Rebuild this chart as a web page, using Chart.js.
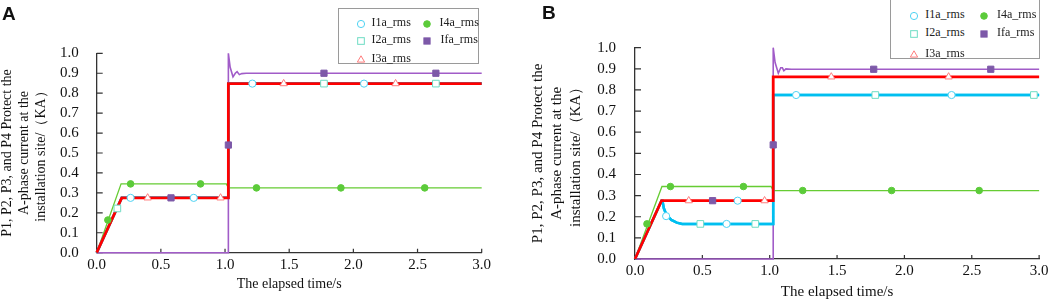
<!DOCTYPE html>
<html lang="en">
<head>
  <meta charset="UTF-8" />
  <title>A-phase current at the installation site</title>
  <script src="https://cdn.jsdelivr.net/npm/chart.js"></script>
  <style>
    body {
      margin: 0;
      width: 1052px;
      height: 300px;
      background: #fff;
      position: relative;
      overflow: hidden;
      font-family: "Liberation Serif", serif;
    }
    .painel { position: absolute; top: 0; height: 300px; }
    .letra {
      position: absolute;
      font-family: "Liberation Sans", Arial, sans-serif;
      font-weight: bold;
      font-size: 19px;
      line-height: 19px;
      color: #111;
    }
    .legenda {
      position: absolute;
      border: 1.3px solid #9a9a9a;
      background: #fff;
      box-sizing: border-box;
      z-index: 2;
    }
    .item {
      position: absolute;
      font-size: 12px;
      line-height: 14px;
      color: #222;
      white-space: nowrap;
    }
    .simbolo { position: absolute; }
  </style>
</head>
<body>
  <div class="painel" style="left:0;width:530px;"><canvas id="graficoA"></canvas></div>
  <div class="painel" style="left:530px;width:522px;"><canvas id="graficoB"></canvas></div>
  <div class="letra" style="left:2px;top:3.5px;">A</div>
  <div class="letra" style="left:542px;top:2.5px;">B</div>
  <div class="legenda" id="legendaA" style="left:338px;top:8px;width:141px;height:56px;"></div>
  <div class="legenda" id="legendaB" style="left:890px;top:-1px;width:150px;height:60px;"></div>

  <script>
    const rotulosX = ['0.0', '0.5', '1.0', '1.5', '2.0', '2.5', '3.0'];
    const rotulosY = ['0.0', '0.1', '0.2', '0.3', '0.4', '0.5', '0.6', '0.7', '0.8', '0.9', '1.0'];
    const nomes = ['I1a_rms', 'I2a_rms', 'I3a_rms', 'I4a_rms', 'Ifa_rms'];

    // painel A - curvas
    const aTempo123 = [0, 0.195, 1.026, 1.026, 3];
    const aValor123 = [0, 0.275, 0.275, 0.848, 0.848];
    const aTempo4 = [0, 0.19, 1.01, 1.026, 3];
    const aValor4 = [0, 0.345, 0.345, 0.325, 0.325];
    const aTempoF = [0, 1.026, 1.026, 1.04, 1.062, 1.08, 1.094, 1.112, 1.13, 1.165, 3];
    const aValorF = [0, 0, 1.0, 0.93, 0.882, 0.9, 0.908, 0.893, 0.898, 0.9, 0.9];

    // painel A - marcadores
    const aM1t = [0.264, 0.756, 1.213, 2.083];
    const aM1v = [0.275, 0.275, 0.848, 0.848];
    const aM2t = [0.161, 1.771, 2.643];
    const aM2v = [0.222, 0.848, 0.848];
    const aM3t = [0.397, 0.965, 1.457, 2.329];
    const aM3v = [0.275, 0.275, 0.848, 0.848];
    const aM4t = [0.087, 0.264, 0.809, 1.245, 1.903, 2.556];
    const aM4v = [0.164, 0.345, 0.345, 0.325, 0.325, 0.325];
    const aMFt = [0.579, 1.026, 1.771, 2.643];
    const aMFv = [0.275, 0.54, 0.9, 0.9];

    // painel B - curvas
    const bTempo12 = [0, 0.197, 0.204, 0.214, 0.234, 0.27, 0.31, 0.35, 1.026, 1.026, 3];
    const bValor12 = [0, 0.276, 0.276, 0.24, 0.208, 0.185, 0.172, 0.166, 0.166, 0.776, 0.776];
    const bTempo3 = [0, 0.197, 1.026, 1.026, 3];
    const bValor3 = [0, 0.276, 0.276, 0.862, 0.862];
    const bTempo4 = [0, 0.2, 1.01, 1.026, 3];
    const bValor4 = [0, 0.343, 0.343, 0.324, 0.324];
    const bTempoF = [0, 1.026, 1.026, 1.04, 1.064, 1.082, 1.094, 1.105, 1.12, 1.16, 3];
    const bValorF = [0, 0, 1.0, 0.93, 0.879, 0.905, 0.905, 0.891, 0.9, 0.898, 0.898];

    // painel B - marcadores
    const bM1t = [0.231, 0.68, 0.762, 1.196, 2.35];
    const bM1v = [0.203, 0.166, 0.276, 0.776, 0.776];
    const bM2t = [0.485, 0.893, 1.784, 2.961];
    const bM2v = [0.166, 0.166, 0.776, 0.776];
    const bM3t = [0.399, 0.962, 1.457, 2.328];
    const bM3v = [0.276, 0.276, 0.862, 0.862];
    const bM4t = [0.089, 0.263, 0.805, 1.245, 1.905, 2.555];
    const bM4v = [0.166, 0.343, 0.343, 0.324, 0.324, 0.324];
    const bMFt = [0.576, 1.026, 1.772, 2.641];
    const bMFv = [0.276, 0.54, 0.898, 0.898];

    const tituloY = ['P1, P2, P3, and P4 Protect the', 'A-phase current at the', 'installation site/\uFF08KA\uFF09'];
    const tituloX = 'The elapsed time/s';

    const corCiano = '#00bff0';
    const corVermelho = '#ff0000';
    const corVerde = '#66cc33';
    const corRoxo = '#a15cc8';

    const estilos = [
      { tipo: 'circle', cor: '#4fd3f3', cheio: false, raio: 3.6 },
      { tipo: 'rect', cor: '#6edcc4', cheio: false, raio: 4.7 },
      { tipo: 'triangle', cor: '#ff7c7c', cheio: false, raio: 4.2 },
      { tipo: 'circle', cor: '#5ccb3a', cheio: true, raio: 3.3 },
      { tipo: 'rect', cor: '#7d59a8', cheio: true, raio: 4.4 }
    ];

    function pontos(xs, ys) {
      return xs.map((x, i) => ({ x: x, y: ys[i] }));
    }

    function linha(xs, ys, cor, largura, ordem) {
      return {
        data: pontos(xs, ys), showLine: true, borderColor: cor, borderWidth: largura,
        pointRadius: 0, pointHoverRadius: 0, clip: false, order: ordem, tension: 0
      };
    }

    function marcador(xs, ys, e) {
      return {
        data: pontos(xs, ys), showLine: false, pointStyle: e.tipo, pointRadius: e.raio,
        borderColor: e.cor, backgroundColor: e.cheio ? e.cor : '#fff',
        pointBorderColor: e.cor, pointBackgroundColor: e.cheio ? e.cor : '#fff',
        pointBorderWidth: 1, clip: false, order: 0
      };
    }

    const ticksParaDentro = {
      id: 'ticksParaDentro',
      beforeDatasetsDraw(chart) {
        const { ctx, chartArea: area, scales: { x, y } } = chart;
        ctx.save();
        ctx.strokeStyle = '#333';
        ctx.lineWidth = 1.2;
        ctx.beginPath();
        x.ticks.forEach(t => {
          const px = x.getPixelForValue(t.value);
          ctx.moveTo(px, area.bottom);
          ctx.lineTo(px, area.bottom - 4);
        });
        y.ticks.forEach(t => {
          const py = y.getPixelForValue(t.value);
          ctx.moveTo(area.left, py);
          ctx.lineTo(area.left + 6, py);
        });
        ctx.stroke();
        ctx.restore();
      }
    };

    function montarGrafico(id, datasets, g) {
      const fonte = 'Liberation Serif';
      new Chart(document.getElementById(id), {
        type: 'scatter',
        data: { datasets: datasets },
        options: {
          responsive: true,
          maintainAspectRatio: false,
          animation: false,
          events: [],
          layout: { padding: { left: 0, top: g.topo, right: g.direita, bottom: 0 } },
          plugins: { legend: { display: false }, tooltip: { enabled: false } },
          scales: {
            x: {
              type: 'linear', min: 0, max: 3,
              grid: { display: false, drawTicks: false },
              border: { display: true, color: '#333', width: 1.3 },
              ticks: {
                stepSize: 0.5, padding: g.padX, color: '#111', maxRotation: 0, autoSkip: false,
                font: { family: fonte, size: 15 },
                callback: (v, i) => rotulosX[i]
              },
              title: {
                display: true, text: tituloX, color: '#111',
                font: { family: fonte, size: g.fonteTitulo, lineHeight: 1.2 },
                padding: { top: 0, bottom: g.padTituloX }
              },
              afterFit: s => { s.height = g.alturaX; }
            },
            y: {
              type: 'linear', min: 0, max: 1,
              grid: { display: false, drawTicks: false },
              border: { display: true, color: '#333', width: 1.3 },
              ticks: {
                stepSize: 0.1, padding: g.padY, color: '#111', autoSkip: false,
                font: { family: fonte, size: 15 },
                callback: (v, i) => rotulosY[i]
              },
              title: {
                display: true, text: tituloY, color: '#111',
                font: { family: fonte, size: g.fonteTitulo, lineHeight: g.alturaLinha },
                padding: { top: g.padTituloY, bottom: 0 }
              },
              afterFit: s => { s.width = g.larguraY; }
            }
          }
        },
        plugins: [ticksParaDentro]
      });
    }

    montarGrafico('graficoA', [
      marcador(aM1t, aM1v, estilos[0]),
      marcador(aM2t, aM2v, estilos[1]),
      marcador(aM3t, aM3v, estilos[2]),
      marcador(aM4t, aM4v, estilos[3]),
      marcador(aMFt, aMFv, estilos[4]),
      linha(aTempo123, aValor123, corVermelho, 2.8, 1),
      linha(aTempo123, aValor123, corCiano, 2.5, 2),
      linha(aTempo123, aValor123, corCiano, 2.5, 2),
      linha(aTempo4, aValor4, corVerde, 1.3, 3),
      linha(aTempoF, aValorF, corRoxo, 1.6, 4)
    ], { topo: 53.3, direita: 48.3, alturaX: 47.3, larguraY: 96.7, padX: 3, padY: 18,
         fonteTitulo: 14, alturaLinha: 1.24, padTituloX: 7.6, padTituloY: -1.8 });

    montarGrafico('graficoB', [
      marcador(bM1t, bM1v, estilos[0]),
      marcador(bM2t, bM2v, estilos[1]),
      marcador(bM3t, bM3v, estilos[2]),
      marcador(bM4t, bM4v, estilos[3]),
      marcador(bMFt, bMFv, estilos[4]),
      linha(bTempo3, bValor3, corVermelho, 2.8, 1),
      linha(bTempo12, bValor12, corCiano, 2.5, 2),
      linha(bTempo12, bValor12, corCiano, 2.5, 2),
      linha(bTempo4, bValor4, corVerde, 1.3, 3),
      linha(bTempoF, bValorF, corRoxo, 1.6, 4)
    ], { topo: 47.7, direita: 10.3, alturaX: 41, larguraY: 105, padX: 3.5, padY: 19,
         fonteTitulo: 15, alturaLinha: 1.27, padTituloX: -1.3, padTituloY: -1.5 });

    function simbolo(e) {
      const s = 12, c = 6;
      const fill = e.cheio ? e.cor : '#fff';
      let forma;
      if (e.tipo === 'circle') {
        forma = `<circle cx="${c}" cy="${c}" r="${e.raio}" fill="${fill}" stroke="${e.cor}" stroke-width="1"/>`;
      } else if (e.tipo === 'rect') {
        const h = e.raio * Math.SQRT1_2;
        forma = `<rect x="${c - h}" y="${c - h}" width="${2 * h}" height="${2 * h}" fill="${fill}" stroke="${e.cor}" stroke-width="1"/>`;
      } else {
        const r = e.raio;
        forma = `<polygon points="${c},${c - r} ${c + r * 0.87},${c + r * 0.5} ${c - r * 0.87},${c + r * 0.5}" fill="${fill}" stroke="${e.cor}" stroke-width="1"/>`;
      }
      return `<svg width="${s}" height="${s}" viewBox="0 0 ${s} ${s}">${forma}</svg>`;
    }

    // posicoes dos itens dentro da caixa: [x do simbolo, x do texto, y do centro]
    function montarLegenda(id, posicoes) {
      const caixa = document.getElementById(id);
      nomes.forEach((nome, i) => {
        const [xs, xt, yc] = posicoes[i];
        const sim = document.createElement('div');
        sim.className = 'simbolo';
        sim.style.left = (xs - 6) + 'px';
        sim.style.top = (yc - 6) + 'px';
        sim.innerHTML = simbolo(estilos[i]);
        caixa.appendChild(sim);
        const txt = document.createElement('div');
        txt.className = 'item';
        txt.style.left = xt + 'px';
        txt.style.top = (yc - 7) + 'px';
        txt.textContent = nome;
        caixa.appendChild(txt);
      });
    }

    montarLegenda('legendaA', [
      [22, 32.5, 13], [22, 32.5, 29.7], [22, 32.5, 49.3], [88, 100.5, 13], [88, 101.5, 29.7]
    ]);
    montarLegenda('legendaB', [
      [23.3, 34.3, 14.3], [23.3, 34.3, 32], [23.3, 34.3, 52.7], [93.3, 106, 14.3], [93.3, 106, 32]
    ]);
  </script>
</body>
</html>
